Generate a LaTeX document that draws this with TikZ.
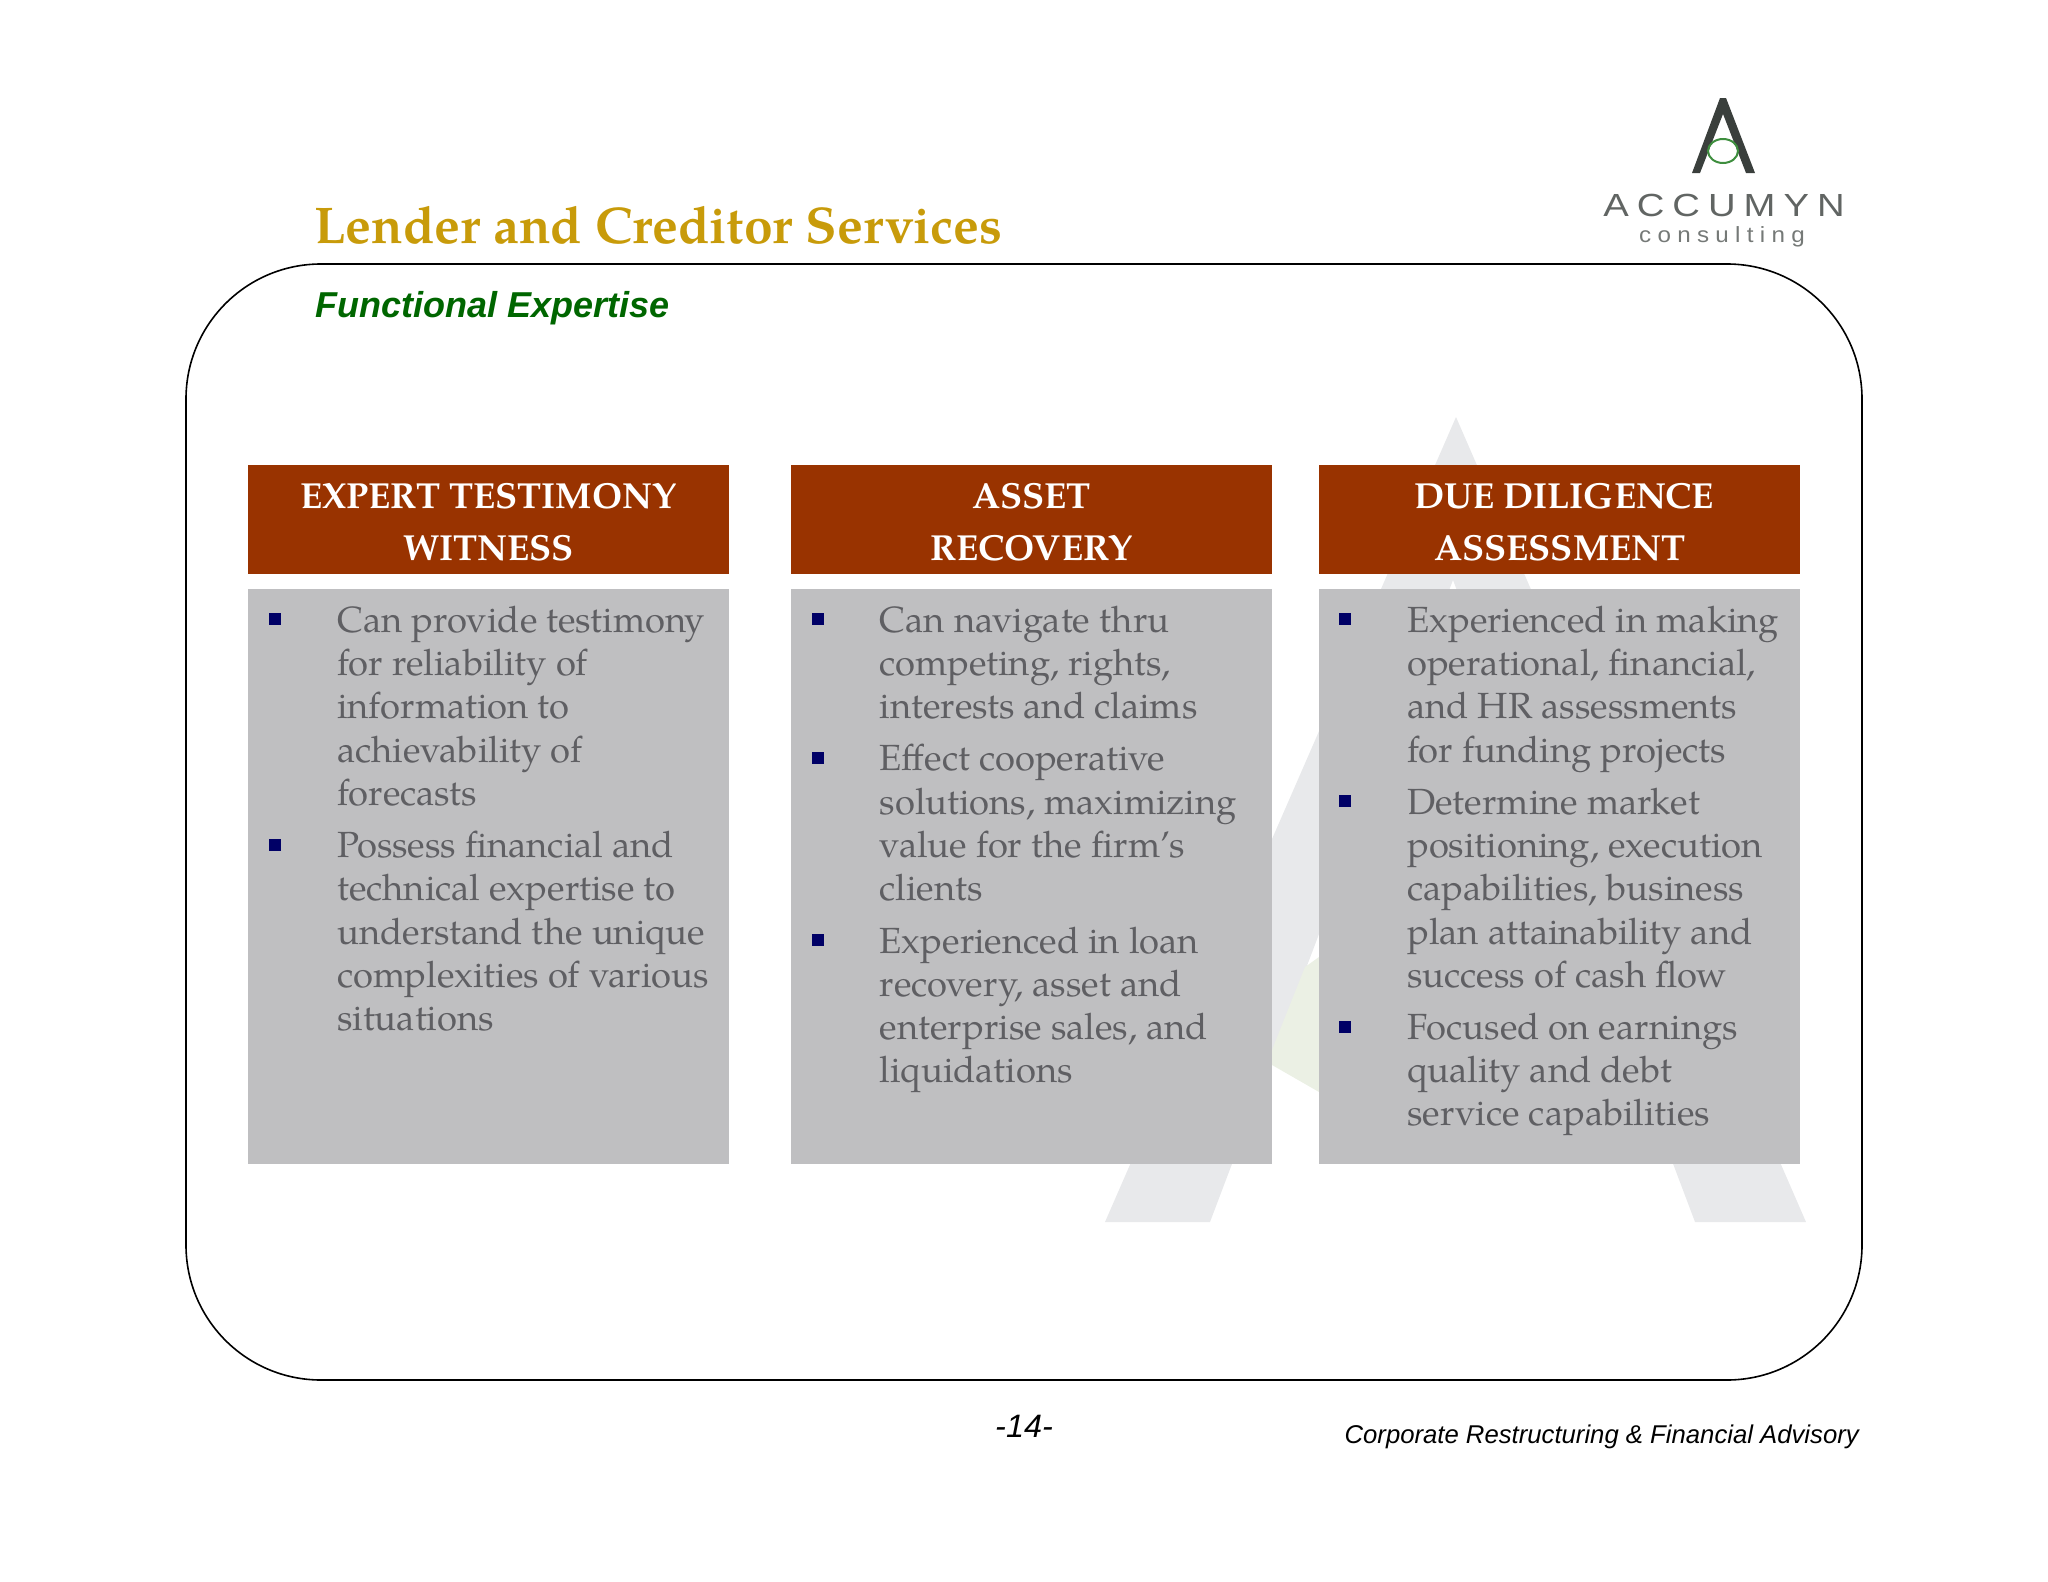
\documentclass[tikz,border=0pt]{standalone}
\usepackage{fontspec}
\setmainfont{TeX Gyre Pagella}
\newfontfamily\arialf{Liberation Sans}
\definecolor{headred}{HTML}{993300}
\definecolor{bodygray}{HTML}{BFBFC1}
\definecolor{bodytext}{HTML}{5F5F63}
\definecolor{bulletblue}{HTML}{000066}
\definecolor{titlegold}{HTML}{C89B0A}
\definecolor{subgreen}{HTML}{006600}
\definecolor{wmgray}{HTML}{E8E9EB}
\definecolor{wmgreen}{HTML}{EBF0E4}
\definecolor{logodark}{HTML}{3A3F3C}
\definecolor{logogreen}{HTML}{3E8E3E}
\tikzset{
 headbox/.style={fill=headred,draw=none,minimum width=481pt,minimum height=109pt,inner sep=0pt,anchor=north west},
 bodybox/.style={fill=bodygray,draw=none,minimum width=481pt,minimum height=575pt,inner sep=0pt,anchor=north west},
 headtext/.style={text=white,font=\fontsize{36.2}{36.2}\selectfont\bfseries,anchor=base},
 line/.style={text=bodytext,font=\fontsize{36.4}{43}\selectfont,anchor=base west,inner sep=0pt},
 bullet/.style={fill=bulletblue,draw=none,minimum size=12pt,inner sep=0pt,anchor=north west},
}
\begin{document}
\begin{tikzpicture}[x=1pt,y=-1pt]
\useasboundingbox (0,0) rectangle (2048,1582);
% watermark
\fill[wmgray] (1105,1222) -- (1456,417) -- (1806,1222) -- (1695,1222) -- (1453,580) -- (1210,1222) -- cycle;
\fill[wmgreen] (1319,957) -- (1305,967) -- (1272,1050) -- (1272,1065) -- (1319,1092) -- cycle;
% frame
\draw[line width=1.6pt,rounded corners=135pt] (186,264) rectangle (1862,1380);
% title
\node[anchor=base west,inner sep=0pt,text=titlegold,font=\fontsize{51.6}{51.6}\selectfont\bfseries] (title) at (314,243) {Lender and Creditor Services};
\node[anchor=base west,inner sep=0pt,text=subgreen,font=\arialf\fontsize{36}{36}\selectfont\bfseries\itshape] (sub) at (315,317) {Functional Expertise};
% columns
\node[headbox] (h1) at (248,465) {};
\node[headbox] (h2) at (791,465) {};
\node[headbox] (h3) at (1318.5,465) {};
\node[bodybox] (b1) at (248,589) {};
\node[bodybox] (b2) at (791,589) {};
\node[bodybox] (b3) at (1318.5,589) {};
\node[headtext] (h1a) at (488.5,508.5) {EXPERT TESTIMONY};
\node[headtext] (h1b) at (488.5,560.5) {WITNESS};
\node[headtext] (h2a) at (1031.5,508.5) {ASSET};
\node[headtext] (h2b) at (1031.5,560.5) {RECOVERY};
\node[headtext] (h3a) at (1564,508.5) {DUE DILIGENCE};
\node[headtext] (h3b) at (1560,560.5) {ASSESSMENT};
% col 1
\node[bullet] (p1) at (269,613) {};
\node[bullet] (p2) at (269,839) {};
\foreach \n/\y/\t in {a/632/Can provide testimony,b/675/for reliability of,c/718.5/information to,d/762/achievability of,e/805/forecasts,f/857/Possess financial and,g/900.5/technical expertise to,h/944/understand the unique,i/987/complexities of various,j/1030/situations}
  \node[line] (l1\n) at (337,\y) {\t};
% col 2
\node[bullet] (q1) at (812,613) {};
\node[bullet] (q2) at (812,752) {};
\node[bullet] (q3) at (812,934) {};
\foreach \n/\y/\t in {a/632/Can navigate thru,b/675/{competing, rights,},c/718.5/interests and claims,d/770.5/Effect cooperative,e/814/{solutions, maximizing},f/857/value for the firm’s,g/900.5/clients,h/953/Experienced in loan,i/996/{recovery, asset and},j/1039/{enterprise sales, and},k/1082/liquidations}
  \node[line] (l2\n) at (879.5,\y) {\t};
% col 3
\node[bullet] (r1) at (1339,613) {};
\node[bullet] (r2) at (1339,795) {};
\node[bullet] (r3) at (1339,1021) {};
\foreach \n/\y/\t in {a/632/Experienced in making,b/675/{operational, financial,},c/718.5/and HR assessments,d/762/for funding projects,e/814/Determine market,f/857/{positioning, execution},g/900.5/{capabilities, business},h/944/plan attainability and,i/987/success of cash flow,j/1039/Focused on earnings,k/1082/quality and debt,l/1125/service capabilities}
  \node[line] (l3\n) at (1407,\y) {\t};
% footer
\node[anchor=base west,inner sep=0pt,font=\arialf\fontsize{32.4}{32.4}\selectfont\itshape] (pg) at (995,1437) {-14-};
\node[anchor=base east,inner sep=0pt,font=\arialf\fontsize{25.7}{25.7}\selectfont\itshape] (foot) at (1859,1443) {Corporate Restructuring \& Financial Advisory};
% logo
\fill[logodark] (1692,173) -- (1720,98) -- (1726,98) -- (1755,173) -- (1746,173) -- (1723,114) -- (1700,173) -- cycle;
\draw[logogreen,line width=2pt] (1723,151) ellipse (15 and 12);
\node[anchor=base,inner sep=0pt,text=logodark!80,xscale=1.195,font=\arialf\fontsize{32}{32}\selectfont] (acc) at (1724,216) {\addfontfeature{LetterSpace=21}ACCUMYN};
\node[anchor=base,inner sep=0pt,text=logodark!70,xscale=1.1,font=\arialf\fontsize{22}{22}\selectfont] (con) at (1722,242) {\addfontfeature{LetterSpace=26}consulting};
\end{tikzpicture}
\end{document}
